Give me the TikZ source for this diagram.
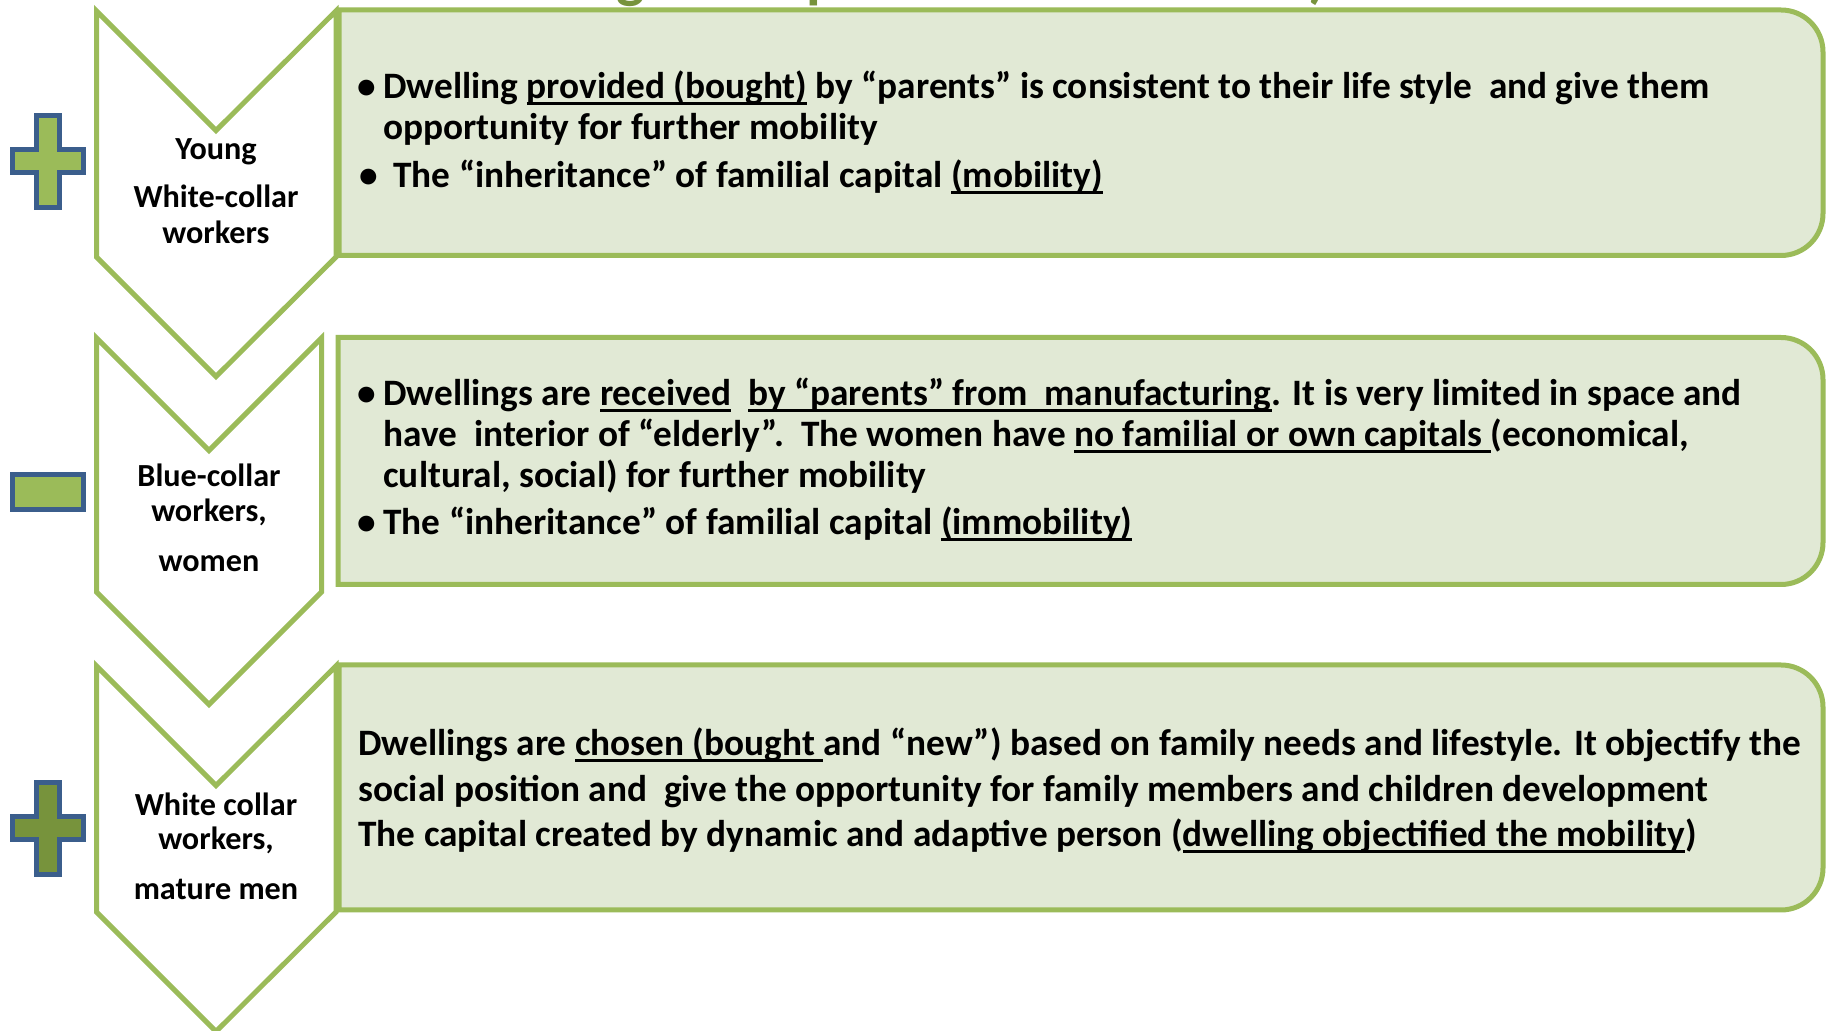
\documentclass[tikz,border=0pt]{standalone}
\usepackage{fontspec}
\setmainfont{Carlito}
\definecolor{cgreen}{HTML}{9BBB59}
\definecolor{dgreen}{HTML}{77933C}
\definecolor{boxfill}{RGB}{225,233,213}
\definecolor{signblue}{HTML}{3B5E8C}
\newsavebox{\ulbox}
\newcommand{\myul}[1]{\sbox{\ulbox}{#1}\rlap{\rule[-0.16em]{\wd\ulbox}{0.075em}}\usebox{\ulbox}}
\tikzset{
  chev/.style={draw=cgreen, line width=2.5pt, fill=white, line join=miter},
  tbox/.style={draw=cgreen, line width=2.5pt, fill=boxfill},
  signshape/.style={draw=signblue, line width=2.5pt, line join=miter},
  lbl/.style={font=\fontsize{16.1}{18}\selectfont\bfseries, anchor=base, inner sep=0pt},
  body/.style={font=\fontsize{18.65}{22}\selectfont\bfseries, anchor=base west, inner sep=0pt},
  bul/.style={font=\fontsize{18.65}{22}\selectfont\bfseries, anchor=base, inner sep=0pt},
  frag/.style={font=\fontsize{30}{36}\selectfont\bfseries, text=dgreen, inner sep=0pt}
}
\begin{document}
\begin{tikzpicture}[x=0.5pt, y=-0.5pt]
\useasboundingbox (0,0) rectangle (1828,1031);
\fill[white] (0,0) rectangle (1828,1031);
% cut-off title fragments
\begin{scope}
\clip (0,0) rectangle (1828,1031);
\node[frag, anchor=base] (fg) at (631,-3) {g};
\node[frag, anchor=base west] (fp) at (806,-3) {p};
\node[frag, anchor=base] (fr) at (1318,-3) {)};
\end{scope}
% text boxes
\draw[tbox] (339,10) -- (1700,10) [rounded corners=21pt] -- (1823,10) -- (1823,255.5) -- (1700,255.5) [sharp corners] -- (339,255.5) -- cycle;
\draw[tbox] (338,337.5) -- (1700,337.5) [rounded corners=21pt] -- (1823,337.5) -- (1823,584.5) -- (1700,584.5) [sharp corners] -- (338,584.5) -- cycle;
\draw[tbox] (339,665) -- (1700,665) [rounded corners=21pt] -- (1823,665) -- (1823,910) -- (1700,910) [sharp corners] -- (339,910) -- cycle;
% chevrons
\draw[chev] (96.5,11) -- (216,130.5) -- (336,11) -- (336,257) -- (216,376.5) -- (96.5,257) -- cycle;
\draw[chev] (96.5,338) -- (209,450.5) -- (321.5,338) -- (321.5,592) -- (209,704.5) -- (96.5,592) -- cycle;
\draw[chev] (96.5,666) -- (216,785.5) -- (336,666) -- (336,912) -- (216,1031.5) -- (96.5,912) -- cycle;
% signs
\draw[signshape, fill=cgreen] (36.5,115.5) -- (59.5,115.5) -- (59.5,149.5) -- (83.5,149.5) -- (83.5,172.5) -- (59.5,172.5) -- (59.5,207.5) -- (36.5,207.5) -- (36.5,172.5) -- (12.5,172.5) -- (12.5,149.5) -- (36.5,149.5) -- cycle;
\draw[signshape, fill=cgreen] (12.5,474.5) rectangle (83.5,509.5);
\begin{scope}[shift={(0,667)}]
\draw[signshape, fill=dgreen] (36.5,115.5) -- (59.5,115.5) -- (59.5,149.5) -- (83.5,149.5) -- (83.5,172.5) -- (59.5,172.5) -- (59.5,207.5) -- (36.5,207.5) -- (36.5,172.5) -- (12.5,172.5) -- (12.5,149.5) -- (36.5,149.5) -- cycle;
\end{scope}
% chevron labels
\node[lbl] (l11) at (216,160) {Young};
\node[lbl] (l12) at (216,208) {White-collar};
\node[lbl] (l13) at (216,244) {workers};
\node[lbl] (l21) at (209,487) {Blue-collar};
\node[lbl] (l22) at (209,522) {workers,};
\node[lbl] (l23) at (209,572) {women};
\node[lbl] (l31) at (216,816) {White collar};
\node[lbl] (l32) at (216,850) {workers,};
\node[lbl] (l33) at (216,900) {mature men};
% box 1 text
\node[bul] (b11) at (367,99) {•};
\node[body] (t11) at (383,99) {Dwelling \myul{provided (bought)} by “parents” is consistent to their life style\ \ and give them};
\node[body] (t12) at (383,140) {opportunity for further mobility};
\node[bul] (b12) at (369,188) {•};
\node[body] (t13) at (393,188) {The “inheritance” of familial capital \myul{(mobility)}};
% box 2 text
\node[bul] (b21) at (367,406) {•};
\node[body] (t21) at (383,406) {Dwellings are \myul{received}\ \ \myul{by “parents” from\ \ manufacturing}. It is very limited in space and};
\node[body] (t22) at (383,447) {have\ \ interior of “elderly”.\ \ The women have \myul{no familial or own capitals\ }(economical,};
\node[body] (t23) at (383,488) {cultural, social) for further mobility};
\node[bul] (b22) at (367,535) {•};
\node[body] (t24) at (383,535) {The “inheritance” of familial capital \myul{(immobility)}};
% box 3 text
\node[body] (t31) at (358,756) {Dwellings are \myul{chosen (bought\ }and “new”) based on family needs and lifestyle. It objectify the};
\node[body] (t32) at (358,802) {social position and\ \ give the opportunity for family members and children development};
\node[body] (t33) at (358,847) {The capital created by dynamic and adaptive person (\myul{dwelling objectified the mobility})};
\end{tikzpicture}
\end{document}
